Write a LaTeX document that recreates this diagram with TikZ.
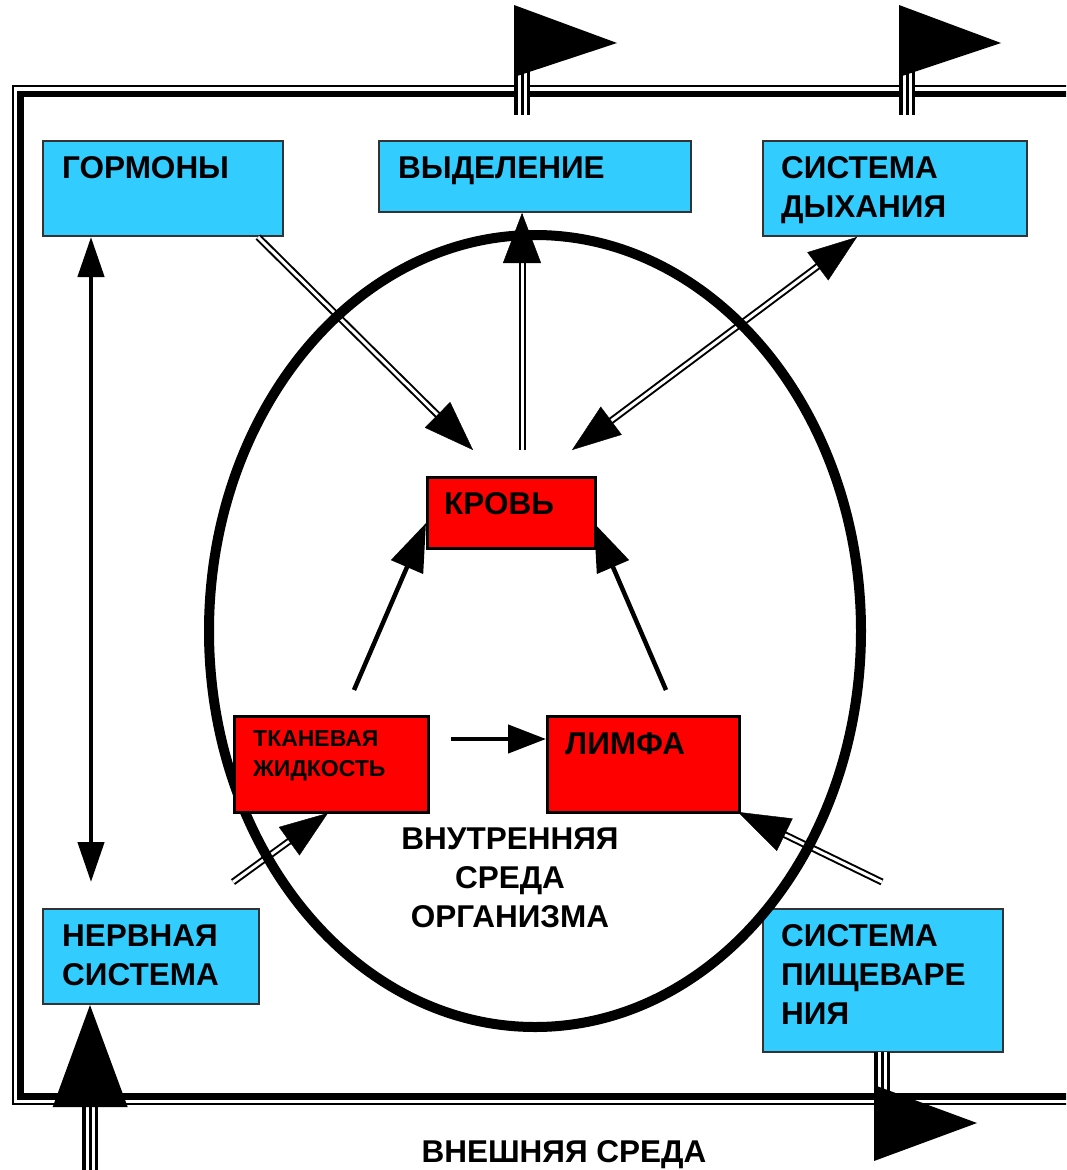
\documentclass[tikz,border=0pt]{standalone}
\usepackage{fontspec}
\setmainfont{Liberation Sans}
\usetikzlibrary{arrows.meta,calc}
\definecolor{skyc}{HTML}{33CCFF}
\definecolor{boxred}{HTML}{FF0000}
\newcommand\bigf{\fontsize{31.5}{39}\selectfont\bfseries}
\newcommand\smallf{\fontsize{23}{30}\selectfont\bfseries}
\begin{document}
\begin{tikzpicture}[x=1pt,y=-1pt,
  dbl/.style={draw=black, line width=2pt, double=white, double distance=3pt},
  thickarrow/.style={line width=4.5pt},
  triple/.style={line width=16pt, postaction={draw=white,line width=9pt}, postaction={draw=black,line width=3pt}},
  headD/.style={line width=0.4pt, -{Triangle[length=50pt,width=36pt]}},
  bluebox/.style={draw=black!80, line width=1.5pt, fill=skyc, anchor=north west, inner sep=0pt},
  redbox/.style={draw=black, line width=3pt, fill=boxred, anchor=north west, inner sep=0pt},
  lbl/.style={anchor=base west, align=left, inner sep=0pt, font=\bigf},
  slbl/.style={anchor=base west, align=left, inner sep=0pt, font=\smallf},
]
\useasboundingbox (0,0) rectangle (1066,1170);
\clip (0,0) rectangle (1066,1170);

% outer frame (external environment)
\draw[line width=1.5pt] (13,86) rectangle (1090,1104);
\draw[line width=6.8pt] (20.4,94) rectangle (1090,1096.4);

% flags on top
\draw[triple] (522,70) -- (522,115);
\fill (514,5) -- (617,43) -- (514,77) -- cycle;
\draw[triple] (907,70) -- (907,115);
\fill (899,5) -- (1001,43) -- (899,77) -- cycle;

% boxes
\node[bluebox, minimum width=240pt, minimum height=95pt] (horm) at (42,140) {};
\node[bluebox, minimum width=312pt, minimum height=71pt] (vyd) at (378,140) {};
\node[bluebox, minimum width=264pt, minimum height=95pt] (dyh) at (762,140) {};
\node[bluebox, minimum width=216pt, minimum height=95pt] (nerv) at (42,908) {};
\node[bluebox, minimum width=240pt, minimum height=143pt] (pish) at (762,908) {};

% bottom-left incoming arrow
\coordinate (inL) at (90,1170);
\coordinate (inLh) at (90,1005);
\draw[triple] (inL) -- (90,1100);
\fill (inLh) -- (52.7,1107) -- (127.7,1107) -- cycle;

% bottom-right outgoing flag
\draw[triple] (882,1052) -- (882,1095);
\fill (874,1085) -- (977,1123) -- (874,1161) -- cycle;

% connector coordinates
\coordinate (a1t) at (258,237); \coordinate (a1h) at (473,450);
\coordinate (a2t) at (522,450); \coordinate (a2h) at (522,213);
\coordinate (a3a) at (572,450); \coordinate (a3b) at (857,237);
\coordinate (a4t) at (354,690); \coordinate (a4h) at (426,523);
\coordinate (a5t) at (666,690); \coordinate (a5h) at (594,523);
\coordinate (a6t) at (451,739); \coordinate (a6h) at (546,739);
\coordinate (a7a) at (91,237);  \coordinate (a7b) at (91,882);
\coordinate (a8t) at (233,882); \coordinate (a8h) at (328,813);
\coordinate (a9t) at (882,882); \coordinate (a9h) at (738,812);

% double-line arrows
\draw[dbl] (a1t) -- ($(a1h)!40pt!(a1t)$);
\draw[headD] ($(a1h)!1pt!(a1t)$) -- (a1h);
\draw[dbl] (a2t) -- ($(a2h)!40pt!(a2t)$);
\draw[headD, -{Triangle[length=50pt,width=38pt]}] ($(a2h)!1pt!(a2t)$) -- (a2h);
\draw[dbl] ($(a3a)!40pt!(a3b)$) -- ($(a3b)!40pt!(a3a)$);
\draw[headD, -{Triangle[length=49pt,width=35pt]}] ($(a3a)!1pt!(a3b)$) -- (a3a);
\draw[headD, -{Triangle[length=49pt,width=35pt]}] ($(a3b)!1pt!(a3a)$) -- (a3b);
\draw[dbl] (a8t) -- ($(a8h)!40pt!(a8t)$);
\draw[headD, -{Triangle[length=48pt,width=35pt]}] ($(a8h)!1pt!(a8t)$) -- (a8h);
\draw[dbl] (a9t) -- ($(a9h)!40pt!(a9t)$);
\draw[headD, -{Triangle[length=52pt,width=36pt]}] ($(a9h)!1pt!(a9t)$) -- (a9h);

% solid arrows
\draw[thickarrow, -{Triangle[length=48pt,width=34pt]}] (a4t) -- (a4h);
\draw[thickarrow, -{Triangle[length=48pt,width=34pt]}] (a5t) -- (a5h);
\draw[thickarrow, -{Triangle[length=38pt,width=28pt]}] (a6t) -- (a6h);
\draw[thickarrow, {Triangle[length=40pt,width=26pt]}-{Triangle[length=40pt,width=26pt]}] (a7a) -- (a7b);

% internal environment
\draw[line width=10pt] (535,631) ellipse [x radius=326, y radius=396];

% red boxes
\node[redbox, minimum width=168pt, minimum height=71pt] (krov) at (426,476) {};
\node[redbox, minimum width=194pt, minimum height=96pt] (tkan) at (233,715) {};
\node[redbox, minimum width=192pt, minimum height=96pt] (limf) at (546,715) {};

% labels (base anchor = baseline of the last line)
\node[lbl] (hormT) at (62,178) {ГОРМОНЫ};
\node[lbl] (vydT) at (398,178) {ВЫДЕЛЕНИЕ};
\node[lbl] (dyhT) at (781,217) {СИСТЕМА\\ДЫХАНИЯ};
\node[lbl] (nervT) at (62,985) {НЕРВНАЯ\\СИСТЕМА};
\node[lbl] (pishT) at (781,1024) {СИСТЕМА\\ПИЩЕВАРЕ\\НИЯ};
\node[lbl] (krovT) at (444,514) {КРОВЬ};
\node[slbl] (tkanT) at (253,776) {ТКАНЕВАЯ\\ЖИДКОСТЬ};
\node[lbl] (limfT) at (565,754) {ЛИМФА};
\node[lbl, anchor=base, align=center] (innerT) at (510,927) {ВНУТРЕННЯЯ\\СРЕДА\\ОРГАНИЗМА};
\node[lbl, anchor=base] (outerT) at (564,1162) {ВНЕШНЯЯ СРЕДА};
\end{tikzpicture}
\end{document}
